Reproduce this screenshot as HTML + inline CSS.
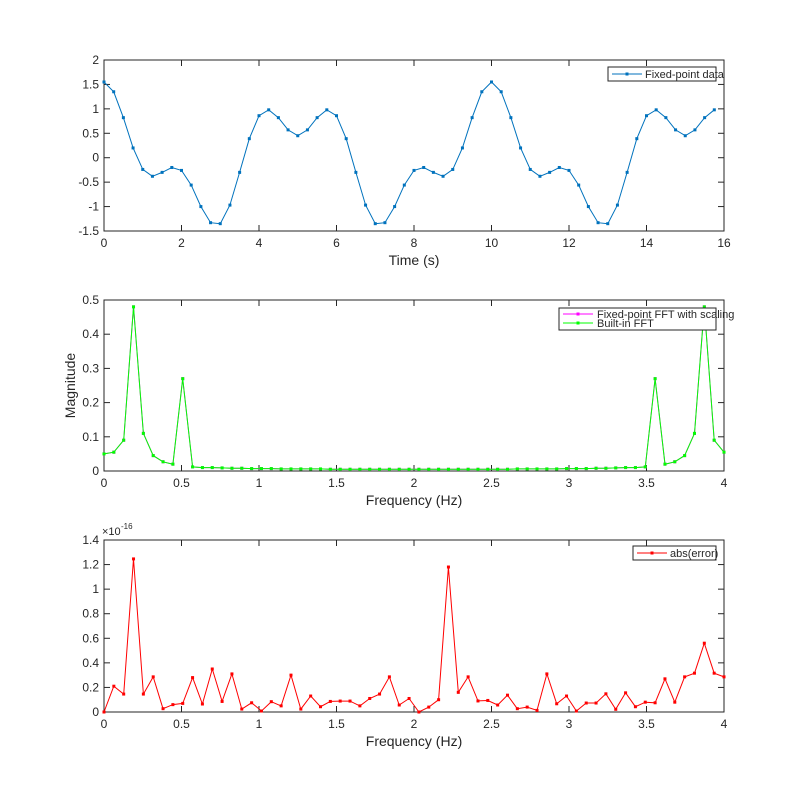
<!DOCTYPE html>
<html><head><meta charset="utf-8"><style>
body{margin:0;background:#fff}
svg{font-family:"Liberation Sans",Arial,sans-serif}
</style></head><body>
<svg id="s" width="800" height="800" xmlns="http://www.w3.org/2000/svg"></svg>
<script>
const s=document.getElementById('s');
let h='<rect width="800" height="800" fill="#fff"/>';
const X0=104,X1=724;
function axes(y0,y1,xmin,xmax,xt,ymin,ymax,yt,xl,yl){
  const fx=v=>X0+(v-xmin)/(xmax-xmin)*(X1-X0);
  const fy=v=>y1-(v-ymin)/(ymax-ymin)*(y1-y0);
  h+=`<rect x="${X0}" y="${y0}" width="${X1-X0}" height="${y1-y0}" fill="#fff" stroke="#262626" stroke-width="1"/>`;
  xt.forEach(t=>{const x=fx(t);h+=`<line x1="${x}" y1="${y1}" x2="${x}" y2="${y1-6}" stroke="#262626"/><line x1="${x}" y1="${y0}" x2="${x}" y2="${y0+6}" stroke="#262626"/><text x="${x}" y="${y1+16}" font-size="12" text-anchor="middle" fill="#262626">${t}</text>`;});
  yt.forEach(t=>{const y=fy(t);h+=`<line x1="${X0}" y1="${y}" x2="${X0+6}" y2="${y}" stroke="#262626"/><line x1="${X1}" y1="${y}" x2="${X1-6}" y2="${y}" stroke="#262626"/><text x="${X0-5}" y="${y+4}" font-size="12" text-anchor="end" fill="#262626">${t}</text>`;});
  h+=`<text x="${(X0+X1)/2}" y="${y1+34}" font-size="14" text-anchor="middle" fill="#262626">${xl}</text>`;
  if(yl)h+=`<text transform="translate(75 ${(y0+y1)/2}) rotate(-90)" font-size="14" text-anchor="middle" fill="#262626">${yl}</text>`;
  return [fx,fy];
}
function series(fx,fy,xs,ys,c){
  let p=xs.map((x,i)=>fx(x).toFixed(1)+','+fy(ys[i]).toFixed(1)).join(' ');
  h+=`<polyline points="${p}" fill="none" stroke="${c}" stroke-width="1"/>`;
  xs.forEach((x,i)=>{h+=`<rect x="${fx(x)-1.5}" y="${fy(ys[i])-1.5}" width="3" height="3" fill="${c}"/>`;});
}
// top
const b=[1.55,1.35,0.82,0.2,-0.24,-0.38,-0.3,-0.2,-0.26,-0.56,-1.0,-1.33,-1.35,-0.97,-0.3,0.39,0.86,0.98,0.82,0.57,0.45,0.57,0.82,0.98,0.86,0.39,-0.3,-0.97,-1.35,-1.33,-1.0,-0.56,-0.26,-0.2,-0.3,-0.38,-0.24,0.2,0.82,1.35];
let ty=[],tx=[];for(let i=0;i<64;i++){tx.push(i*0.25);ty.push(b[i%40]);}
let [fx,fy]=axes(60,231,0,16,[0,2,4,6,8,10,12,14,16],-1.5,2,[-1.5,-1,-0.5,0,0.5,1,1.5,2],'Time (s)','');
series(fx,fy,tx,ty,'#0072BD');
h+=`<rect x="608" y="67" width="108" height="14" fill="#fff" stroke="#262626"/><line x1="612" y1="74" x2="642" y2="74" stroke="#0072BD"/><rect x="625.5" y="72.5" width="3" height="3" fill="#0072BD"/><text x="645" y="78" font-size="11" fill="#262626">Fixed-point data</text>`;
// middle
const m=[0.05,0.055,0.09,0.48,0.11,0.045,0.027,0.02,0.27,0.012,0.01,0.01,0.009,0.008,0.008,0.007,0.007,0.007,0.006,0.006,0.006,0.006,0.006,0.005,0.005,0.005,0.005,0.005,0.005,0.005,0.005,0.005,0.005];
let fxs=[],my=[];for(let i=0;i<64;i++){fxs.push(i*4/63);my.push(m[i<=32?i:64-i]);}
[fx,fy]=axes(300,471,0,4,[0,0.5,1,1.5,2,2.5,3,3.5,4],0,0.5,[0,0.1,0.2,0.3,0.4,0.5],'Frequency (Hz)','Magnitude');
series(fx,fy,fxs,my,'#ff00ff');
series(fx,fy,fxs,my,'#00ff00');
h+=`<rect x="559" y="308" width="157" height="22" fill="#fff" stroke="#262626"/><line x1="563" y1="314" x2="593" y2="314" stroke="#ff00ff"/><rect x="576.5" y="312.5" width="3" height="3" fill="#ff00ff"/><text x="597" y="318" font-size="11" fill="#262626">Fixed-point FFT with scaling</text><line x1="563" y1="323" x2="593" y2="323" stroke="#00ff00"/><rect x="576.5" y="321.5" width="3" height="3" fill="#00ff00"/><text x="597" y="327" font-size="11" fill="#262626">Built-in FFT</text>`;
// bottom
const e=[0,0.21,0.146,1.246,0.146,0.286,0.027,0.06,0.07,0.28,0.065,0.35,0.086,0.31,0.024,0.075,0.008,0.084,0.05,0.30,0.024,0.13,0.043,0.086,0.089,0.089,0.05,0.11,0.146,0.286,0.057,0.11,0,0.04,0.1,1.18,0.16,0.286,0.09,0.094,0.057,0.137,0.027,0.04,0.013,0.31,0.067,0.13,0.008,0.073,0.073,0.148,0.022,0.156,0.043,0.08,0.075,0.27,0.08,0.286,0.316,0.56,0.316,0.286];
[fx,fy]=axes(540,712,0,4,[0,0.5,1,1.5,2,2.5,3,3.5,4],0,1.4,[0,0.2,0.4,0.6,0.8,1,1.2,1.4],'Frequency (Hz)','');
series(fx,fy,fxs,e,'#ff0000');
h+=`<text x="102" y="535" font-size="11" fill="#262626">×10</text><text x="121" y="529" font-size="8" fill="#262626">-16</text>`;
h+=`<rect x="633" y="546" width="83" height="14" fill="#fff" stroke="#262626"/><line x1="637" y1="553" x2="667" y2="553" stroke="#ff0000"/><rect x="650.5" y="551.5" width="3" height="3" fill="#ff0000"/><text x="670" y="557" font-size="11" fill="#262626">abs(error)</text>`;
s.innerHTML=h;
</script>
</body></html>
